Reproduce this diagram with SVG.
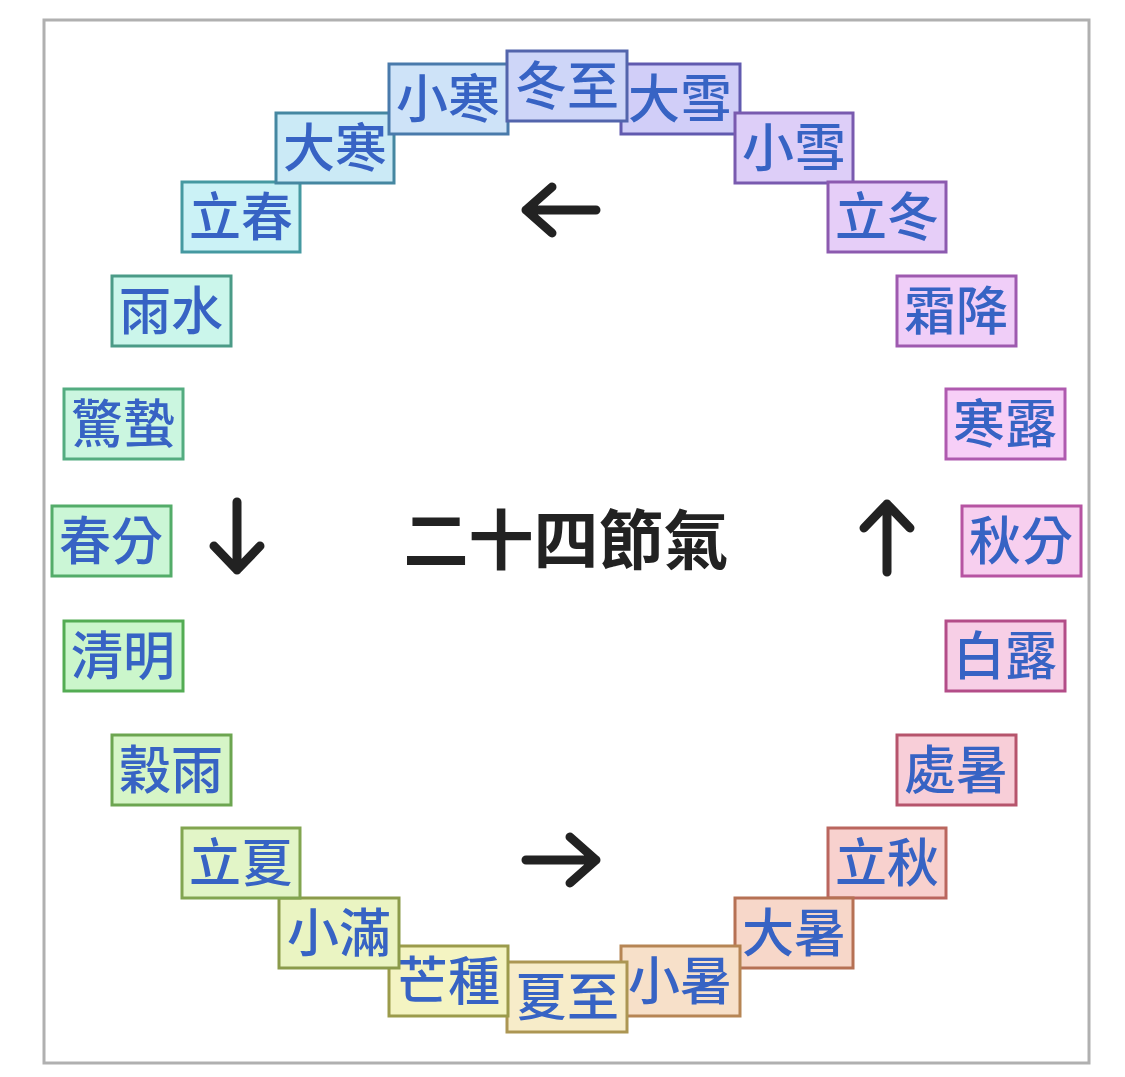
<svg xmlns="http://www.w3.org/2000/svg" width="1125" height="1077" viewBox="0 0 1125 1077">
<style>
.b rect{stroke-width:3}
.b text{font-family:"Noto Sans CJK TC","Noto Sans CJK SC",sans-serif;font-size:52px;font-weight:500;fill:#3763c4;text-anchor:middle;dominant-baseline:central;transform:translateY(-4px)}
.a{stroke:#222;stroke-width:9;fill:none;stroke-linecap:round;stroke-linejoin:round}
</style>
<rect width="1125" height="1077" fill="#fff"/>
<rect x="44" y="20" width="1045" height="1043" fill="#fff" stroke="#b0b0b0" stroke-width="3"/>
<g id="connectors">
<path class="a" d="M596 210H526M552 187L526 210L552 233"/>
<path class="a" d="M237 502V570M214 546L237 570L260 546"/>
<path class="a" d="M526 860H596M570 837L596 860L570 883"/>
<path class="a" d="M887 572V504M864 528L887 504L910 528"/>
</g>
<text id="center" x="566" y="536" font-family="Noto Sans CJK TC,Noto Sans CJK SC,sans-serif" font-size="65" font-weight="700" fill="#222" text-anchor="middle" dominant-baseline="central">二十四節氣</text>
<g id="n1" class="b"><rect x="621" y="64" width="119" height="70" fill="hsl(245,75%,89%)" stroke="hsl(245,35%,52%)"/><text x="680" y="99">大雪</text></g>
<g id="n2" class="b"><rect x="735" y="113" width="118" height="70" fill="hsl(262,75%,89%)" stroke="hsl(262,35%,52%)"/><text x="794" y="148">小雪</text></g>
<g id="n3" class="b"><rect x="828" y="182" width="118" height="70" fill="hsl(275,75%,89%)" stroke="hsl(275,35%,52%)"/><text x="887" y="217">立冬</text></g>
<g id="n4" class="b"><rect x="897" y="276" width="119" height="70" fill="hsl(288,75%,89%)" stroke="hsl(288,35%,52%)"/><text x="956" y="311">霜降</text></g>
<g id="n5" class="b"><rect x="946" y="389" width="119" height="70" fill="hsl(300,70%,89%)" stroke="hsl(300,35%,52%)"/><text x="1005" y="424">寒露</text></g>
<g id="n6" class="b"><rect x="962" y="506" width="119" height="70" fill="hsl(312,70%,89%)" stroke="hsl(312,40%,52%)"/><text x="1021" y="541">秋分</text></g>
<g id="n7" class="b"><rect x="946" y="621" width="119" height="70" fill="hsl(325,70%,89%)" stroke="hsl(325,40%,50%)"/><text x="1005" y="656">白露</text></g>
<g id="n8" class="b"><rect x="897" y="735" width="119" height="70" fill="hsl(345,75%,89%)" stroke="hsl(345,40%,52%)"/><text x="956" y="770">處暑</text></g>
<g id="n9" class="b"><rect x="828" y="828" width="118" height="70" fill="hsl(5,75%,89%)" stroke="hsl(5,40%,55%)"/><text x="887" y="863">立秋</text></g>
<g id="n10" class="b"><rect x="735" y="898" width="118" height="70" fill="hsl(18,75%,88%)" stroke="hsl(18,40%,52%)"/><text x="794" y="933">大暑</text></g>
<g id="n11" class="b"><rect x="621" y="946" width="119" height="70" fill="hsl(30,75%,88%)" stroke="hsl(30,40%,52%)"/><text x="680" y="981">小暑</text></g>
<g id="n12" class="b"><rect x="507" y="962" width="120" height="70" fill="hsl(45,75%,88%)" stroke="hsl(45,35%,50%)"/><text x="567" y="997">夏至</text></g>
<g id="n13" class="b"><rect x="389" y="946" width="119" height="70" fill="hsl(60,70%,86%)" stroke="hsl(60,35%,45%)"/><text x="448" y="981">芒種</text></g>
<g id="n14" class="b"><rect x="279" y="898" width="120" height="70" fill="hsl(72,70%,86%)" stroke="hsl(72,35%,45%)"/><text x="339" y="933">小滿</text></g>
<g id="n15" class="b"><rect x="182" y="828" width="118" height="70" fill="hsl(85,70%,87%)" stroke="hsl(85,35%,48%)"/><text x="241" y="863">立夏</text></g>
<g id="n16" class="b"><rect x="112" y="735" width="119" height="70" fill="hsl(100,70%,87%)" stroke="hsl(100,35%,48%)"/><text x="171" y="770">穀雨</text></g>
<g id="n17" class="b"><rect x="64" y="621" width="119" height="70" fill="hsl(120,70%,88%)" stroke="hsl(120,35%,50%)"/><text x="123" y="656">清明</text></g>
<g id="n18" class="b"><rect x="52" y="506" width="119" height="70" fill="hsl(135,70%,88%)" stroke="hsl(135,35%,50%)"/><text x="111" y="541">春分</text></g>
<g id="n19" class="b"><rect x="64" y="389" width="119" height="70" fill="hsl(150,70%,88%)" stroke="hsl(150,35%,50%)"/><text x="123" y="424">驚蟄</text></g>
<g id="n20" class="b"><rect x="112" y="276" width="119" height="70" fill="hsl(165,70%,88%)" stroke="hsl(165,35%,45%)"/><text x="171" y="311">雨水</text></g>
<g id="n21" class="b"><rect x="182" y="182" width="118" height="70" fill="hsl(185,70%,88%)" stroke="hsl(185,40%,45%)"/><text x="241" y="217">立春</text></g>
<g id="n22" class="b"><rect x="276" y="113" width="118" height="70" fill="hsl(197,70%,88%)" stroke="hsl(197,40%,45%)"/><text x="335" y="148">大寒</text></g>
<g id="n23" class="b"><rect x="389" y="64" width="119" height="70" fill="hsl(210,75%,89%)" stroke="hsl(210,40%,48%)"/><text x="448" y="99">小寒</text></g>
<g id="n0" class="b"><rect x="507" y="51" width="120" height="70" fill="hsl(228,75%,89%)" stroke="hsl(228,35%,50%)"/><text x="567" y="86">冬至</text></g>
</svg>
